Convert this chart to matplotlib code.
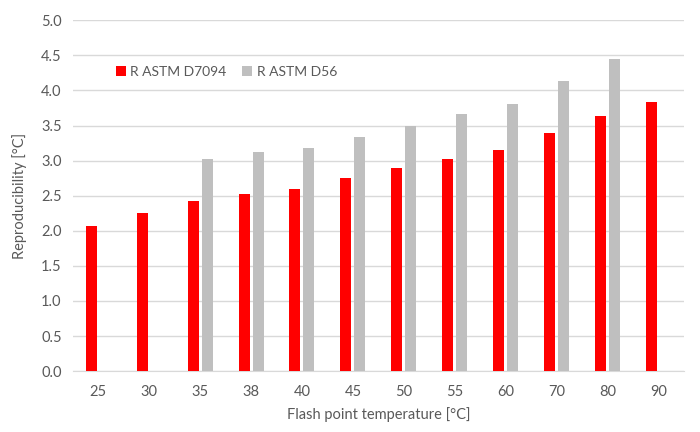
import numpy as np
import matplotlib
matplotlib.use("Agg")
import matplotlib.pyplot as plt

plt.rcParams['font.family'] = ['Lato', 'DejaVu Sans']

# Data
temps = ['25', '30', '35', '38', '40', '45', '50', '55', '60', '70', '80', '90']
r_d7094 = [2.07, 2.26, 2.43, 2.53, 2.60, 2.75, 2.89, 3.02, 3.15, 3.40, 3.63, 3.84]
r_d56 = [np.nan, np.nan, 3.02, 3.12, 3.18, 3.34, 3.50, 3.66, 3.81, 4.13, 4.45, np.nan]

text_color = '#595959'
grid_color = '#d9d9d9'

fig = plt.figure(figsize=(7, 4.32), dpi=100)
ax = fig.add_axes([0.104, 0.141, 0.873, 0.812])

x = np.arange(len(temps))
w = 0.215
gap = 0.06
ax.bar(x - (w + gap) / 2, r_d7094, width=w, color='#ff0000', label='R ASTM D7094', zorder=3)
ax.bar(x + (w + gap) / 2, r_d56, width=w, color='#bfbfbf', label='R ASTM D56', zorder=3)

ax.set_xlim(-0.5, len(temps) - 0.5)
ax.set_ylim(0, 5.0)
ax.set_yticks(np.arange(0, 5.01, 0.5))
ax.set_yticklabels([f'{v:.1f}' for v in np.arange(0, 5.01, 0.5)])
ax.set_xticks(x)
ax.set_xticklabels(temps)

ax.yaxis.grid(True, color=grid_color, linewidth=1.0, zorder=0)
ax.set_axisbelow(True)
for s in ['top', 'right', 'left']:
    ax.spines[s].set_visible(False)
ax.spines['bottom'].set_color(grid_color)
ax.tick_params(axis='both', length=0, colors=text_color, labelsize=10.5)
ax.tick_params(axis='x', pad=10)
ax.tick_params(axis='y', pad=8)

ax.set_xlabel('Flash point temperature [°C]', color=text_color, fontsize=10.5, labelpad=6)
ax.set_ylabel('Reproducibility [°C]', color=text_color, fontsize=10.5, labelpad=10)

leg = ax.legend(loc='upper left', bbox_to_anchor=(0.05, 0.905), ncol=2, frameon=False,
                fontsize=10, handlelength=0.7, handleheight=0.7, columnspacing=1.1,
                handletextpad=0.35)
for t in leg.get_texts():
    t.set_color(text_color)

fig.savefig('out.png', dpi=100)
